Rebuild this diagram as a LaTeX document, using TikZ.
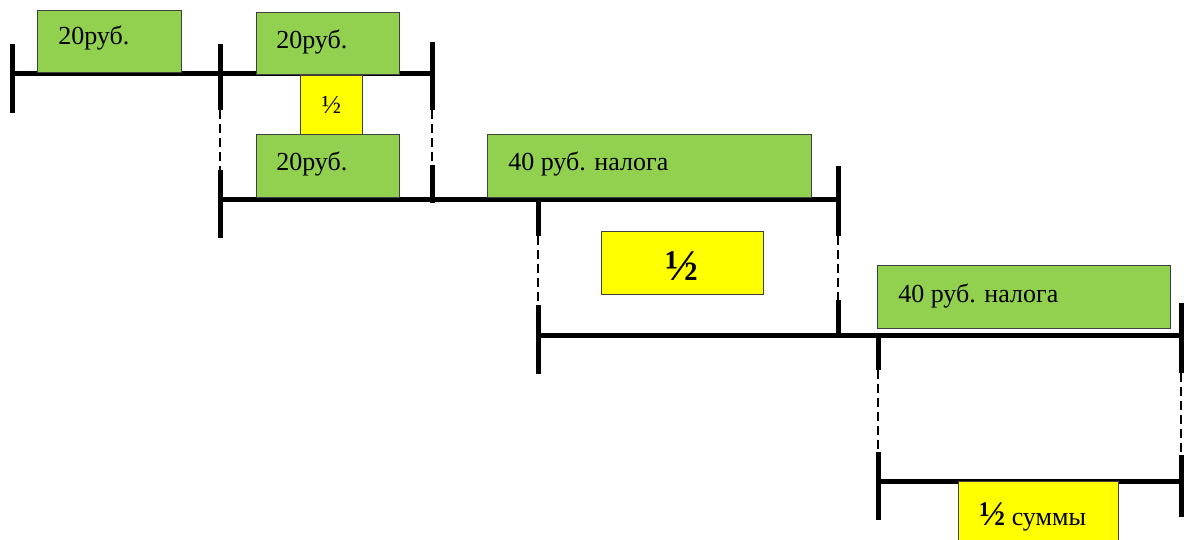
\documentclass[tikz,border=0pt]{standalone}
\usepackage{fontspec}
\setmainfont{Liberation Serif}
\usetikzlibrary{calc}
\definecolor{grn}{HTML}{92D050}
\definecolor{yel}{HTML}{FFFF00}
\tikzset{
  bar/.style={line width=3.75pt},
  dsh/.style={line width=1.8pt, dash pattern=on 7pt off 3.5pt},
  gbox/.style={draw=black!75, line width=0.6pt, fill=grn, inner sep=0pt, anchor=north west},
  ybox/.style={draw=black!75, line width=0.6pt, fill=yel, inner sep=0pt, anchor=north west},
  lbl/.style={inner sep=0pt, font=\fontsize{19.5}{22}\selectfont},
}
\begin{document}
\begin{tikzpicture}[x=0.75pt,y=-0.75pt]
\useasboundingbox (0,0) rectangle (1184,539);
% horizontal bars
\draw[bar] (10,73) -- (432,73);
\draw[bar] (220,199) -- (838,199);
\draw[bar] (538,335) -- (1184,335);
\draw[bar] (878,481) -- (1184,481);
% ticks
\draw[bar] (12,44) -- (12,113);
\draw[bar] (220,44) -- (220,110);
\draw[dsh] (220,110) -- (220,170);
\draw[bar] (220,170) -- (220,238);
\draw[bar] (432,42) -- (432,110);
\draw[dsh] (432,110) -- (432,165);
\draw[bar] (432,165) -- (432,203);
\draw[bar] (538,198) -- (538,236);
\draw[dsh] (538,236) -- (538,305);
\draw[bar] (538,305) -- (538,374);
\draw[bar] (838,166) -- (838,236);
\draw[dsh] (838,236) -- (838,300);
\draw[bar] (838,300) -- (838,337);
\draw[bar] (878,334) -- (878,370);
\draw[dsh] (878,370) -- (878,452);
\draw[bar] (878,452) -- (878,520);
\draw[bar] (1181,303) -- (1181,373);
\draw[dsh] (1181,373) -- (1181,455);
\draw[bar] (1181,455) -- (1181,517);
% boxes
\node[gbox, minimum width=108pt, minimum height=46.5pt] (g1) at (37,10) {};
\node[gbox, minimum width=107.25pt, minimum height=46.5pt] (g2) at (256,12) {};
\node[ybox, minimum width=46.5pt, minimum height=44.25pt] (y1) at (300,75) {};
\node[gbox, minimum width=107.25pt, minimum height=47.25pt] (g3) at (256,134) {};
\node[gbox, minimum width=243pt, minimum height=47.25pt] (g4) at (487,134) {};
\node[ybox, minimum width=121.5pt, minimum height=47.25pt] (y2) at (601,231) {};
\node[gbox, minimum width=219.75pt, minimum height=47.25pt] (g5) at (877,265) {};
\node[ybox, minimum width=120pt, minimum height=50pt] (y3) at (958,481) {};
% labels
\node[lbl, anchor=base west] (t1) at (58,44) {20руб.};
\node[lbl, anchor=base west] (t2) at (276,48) {20руб.};
\node[lbl] (t3) at (y1.center) {½};
\node[lbl, anchor=base west] (t4) at (276,170) {20руб.};
\node[lbl, anchor=base west] (t5) at (508,170) {40 руб. налога};
\node[inner sep=0pt, font=\fontsize{33}{36}\selectfont\bfseries] (t6) at ($(y2.center)+(0,3)$) {½};
\node[lbl, anchor=base west] (t8) at (979,525) {{\fontsize{26}{28}\selectfont\bfseries ½} суммы};
\node[lbl, anchor=base west] (t7) at (898,302) {40 руб. налога};
\end{tikzpicture}
\end{document}
